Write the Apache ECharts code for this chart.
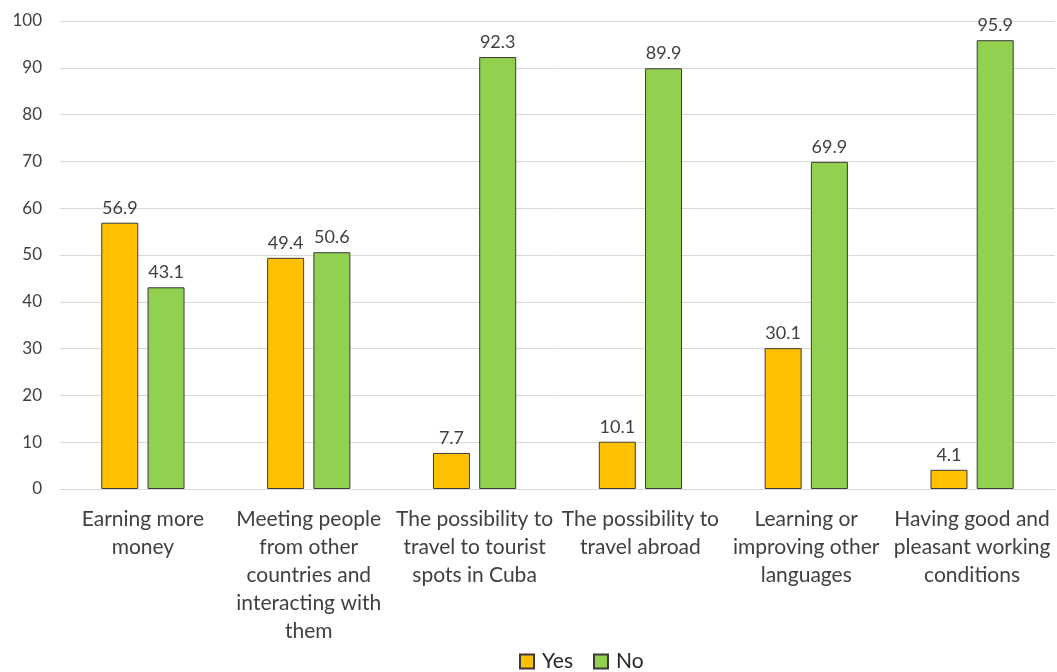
<!DOCTYPE html>
<html><head><meta charset="utf-8">
<script src="https://cdn.jsdelivr.net/npm/echarts@6/dist/echarts.min.js"></script>
<style>html,body{margin:0;padding:0;background:#fff}#c{width:1057px;height:672px}</style>
</head><body><div id="c"></div>
<script>
const categories = [
  "Earning more\nmoney",
  "Meeting people\nfrom other\ncountries and\ninteracting with\nthem",
  "The possibility to\ntravel to tourist\nspots in Cuba",
  "The possibility to\ntravel abroad",
  "Learning or\nimproving other\nlanguages",
  "Having good and\npleasant working\nconditions"
];
const yesValues = [56.9, 49.4, 7.7, 10.1, 30.1, 4.1];
const noValues = [43.1, 50.6, 92.3, 89.9, 69.9, 95.9];
const seriesNames = ["Yes", "No"];

const FONT = "Lato";
const chart = echarts.init(document.getElementById('c'));
const lbl = {show:true, position:'top', distance:6, color:'#404040', fontFamily:FONT, fontSize:18,
  formatter: p => p.value.toFixed(1)};
chart.setOption({
  animation:false,
  grid:{left:60, right:2, top:21, bottom:183},
  legend:{top:646, left:514, itemWidth:14, itemHeight:14, itemGap:20,
    textStyle:{fontFamily:FONT, fontSize:21, color:'#262626', padding:[0,0,0,3]},
    data:seriesNames.map(n=>({name:n, icon:'rect'}))},
  xAxis:{type:'category', data:categories,
    axisLine:{lineStyle:{color:'#d9d9d9'}}, axisTick:{show:false},
    axisLabel:{interval:0, margin:16, fontFamily:FONT, fontSize:21, color:'#404040', lineHeight:28}},
  yAxis:{type:'value', min:0, max:100, interval:10,
    axisLine:{show:false}, axisTick:{show:false},
    splitLine:{lineStyle:{color:'#d9d9d9'}},
    axisLabel:{margin:18, fontFamily:FONT, fontSize:17, color:'#404040'}},
  series:[
    {name:seriesNames[0], type:'bar', data:yesValues, barWidth:37, barGap:'25%',
      itemStyle:{color:'#FFC000', borderColor:'#3b3b3b', borderWidth:1}, label:lbl},
    {name:seriesNames[1], type:'bar', data:noValues, barWidth:37,
      itemStyle:{color:'#92D050', borderColor:'#3b3b3b', borderWidth:1}, label:lbl}
  ]
});
</script></body></html>
